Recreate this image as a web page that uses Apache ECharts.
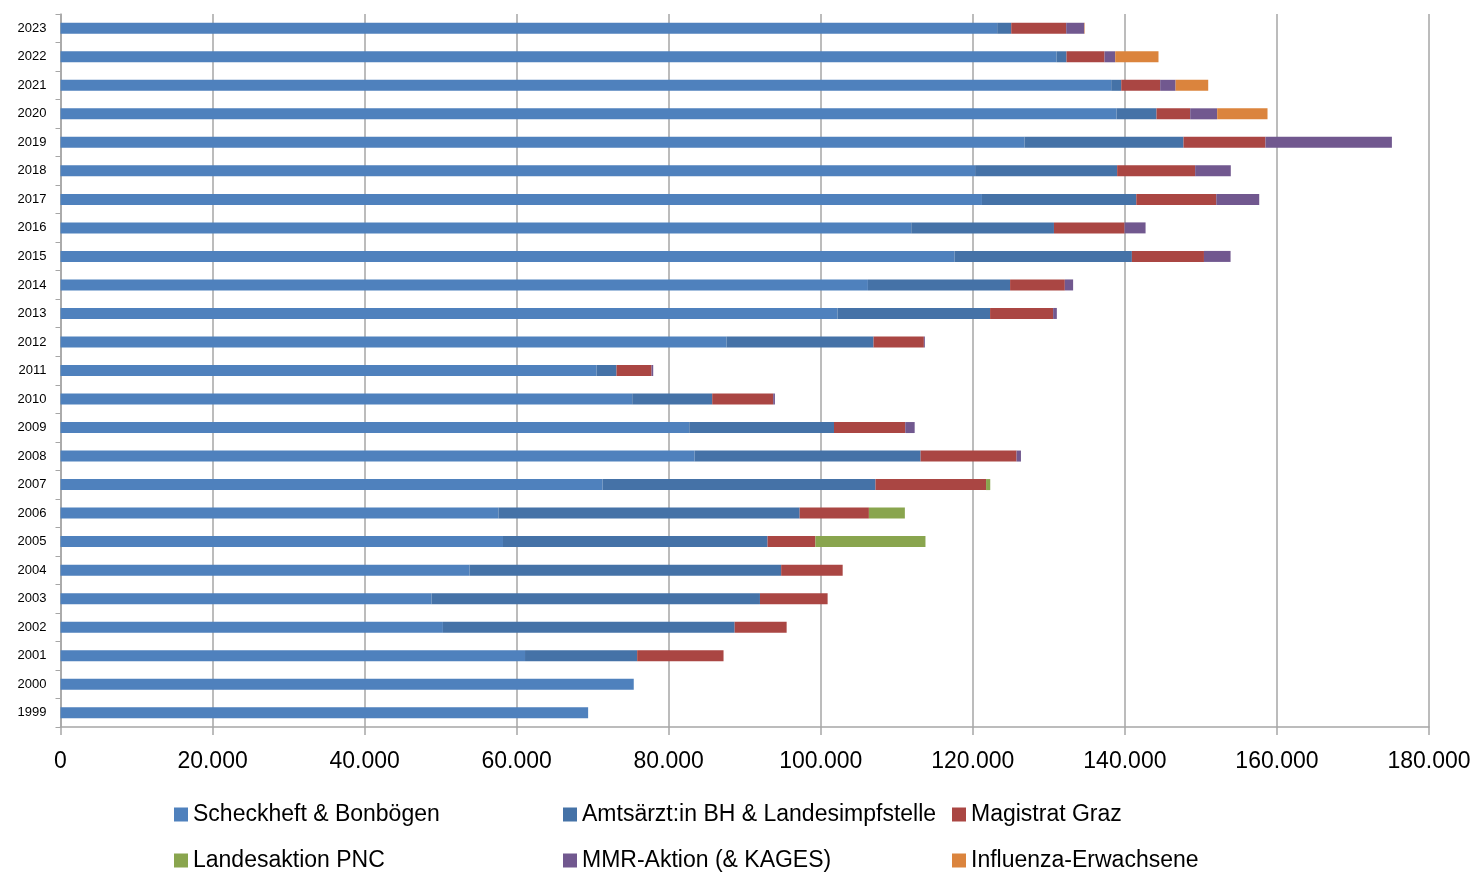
<!DOCTYPE html>
<html>
<head>
<meta charset="utf-8">
<script src="https://cdn.jsdelivr.net/npm/echarts@6/dist/echarts.min.js"></script>
<style>
  html, body { margin: 0; padding: 0; background: #fff; }
  #chart { width: 1475px; height: 873px; }
</style>
</head>
<body>
<div id="chart"></div>
<script>
// Jahre (unten -> oben)
var years = ['1999','2000','2001','2002','2003','2004','2005','2006','2007','2008','2009','2010',
             '2011','2012','2013','2014','2015','2016','2017','2018','2019','2020','2021','2022','2023'];

var seriesNames = ['Scheckheft & Bonbögen', 'Amtsärzt:in BH & Landesimpfstelle', 'Magistrat Graz',
                   'Landesaktion PNC', 'MMR-Aktion (& KAGES)', 'Influenza-Erwachsene'];

var scheckheft = [69400, 75400, 61100, 50300, 48800, 53800, 58200, 57600, 71300, 83400, 82700, 75200,
                  70500, 87600, 102200, 106200, 117600, 111900, 121200, 120300, 126800, 138900, 138200, 131000, 123200];
var amtsarzt   = [0, 0, 14750, 38370, 43200, 40990, 34800, 39620, 35900, 29730, 19040, 10520,
                  2630, 19340, 20070, 18700, 23320, 18770, 20300, 18680, 20910, 5260, 1320, 1320, 1850];
var magistrat  = [0, 0, 11360, 6840, 8900, 8090, 6290, 9110, 14540, 12620, 9370, 8020,
                  4610, 6620, 8290, 7200, 9480, 9290, 10520, 10260, 10780, 4430, 5120, 5000, 7230];
var pnc        = [0, 0, 0, 0, 0, 0, 14480, 4730, 550, 0, 0, 0,
                  0, 0, 0, 0, 0, 0, 0, 0, 0, 0, 0, 0, 0];
var mmr        = [0, 0, 0, 0, 0, 0, 0, 0, 0, 580, 1240, 230,
                  220, 130, 490, 1090, 3500, 2760, 5650, 4690, 16630, 3550, 2030, 1410, 2370];
var influenza  = [0, 0, 0, 0, 0, 0, 0, 0, 0, 0, 0, 0,
                  0, 0, 0, 0, 0, 0, 0, 0, 0, 6620, 4290, 5690, 60];

var colors = ['#4F81BD', '#4572A7', '#AA4643', '#89A54E', '#71588F', '#DB843D'];
var allData = [scheckheft, amtsarzt, magistrat, pnc, mmr, influenza];

var chart = echarts.init(document.getElementById('chart'));
var font = 'Liberation Sans, Arial, sans-serif';

function fmt(v) {
    // 180000 -> 180.000
    return String(v).replace(/\B(?=(\d{3})+(?!\d))/g, '.');
}

var series = [];
for (var i = 0; i < seriesNames.length; i++) {
    series.push({
        name: seriesNames[i],
        type: 'bar',
        stack: 'total',
        barWidth: 11,
        data: allData[i],
        itemStyle: { color: colors[i] },
        emphasis: { disabled: true }
    });
}

// legende: 2 zeilen x 3 spalten, einzeln positioniert
var legendPos = [[174, 803], [563, 803], [952, 803], [174, 849], [563, 849], [952, 849]];
var legends = [];
for (var j = 0; j < seriesNames.length; j++) {
    legends.push({
        data: [seriesNames[j]],
        left: legendPos[j][0],
        top: legendPos[j][1],
        padding: 0,
        icon: 'rect',
        itemWidth: 14,
        itemHeight: 14,
        selectedMode: false,
        textStyle: { fontFamily: font, fontSize: 23, color: '#000' }
    });
}

var option = {
    animation: false,
    color: colors,
    grid: { left: 60.5, right: 46, top: 14, bottom: 146, containLabel: false },
    legend: legends,
    xAxis: {
        type: 'value',
        min: 0,
        max: 180000,
        interval: 20000,
        axisLine: { show: true, lineStyle: { color: '#a6a6a6', width: 1.5 } },
        axisTick: { show: true, length: 8, lineStyle: { color: '#a6a6a6', width: 1.5 } },
        splitLine: { show: true, lineStyle: { color: '#a6a6a6', width: 1.5 } },
        axisLabel: {
            margin: 23,
            fontFamily: font,
            fontSize: 23,
            color: '#000',
            formatter: function (v) { return fmt(v); }
        }
    },
    yAxis: {
        type: 'category',
        data: years,
        axisLine: { show: true, lineStyle: { color: '#a6a6a6', width: 1.5 } },
        axisTick: { show: true, length: 5, lineStyle: { color: '#a6a6a6', width: 1 } },
        splitLine: { show: false },
        axisLabel: { margin: 14, fontFamily: font, fontSize: 13, color: '#000', padding: [2, 0, 0, 0] }
    },
    series: series
};

chart.setOption(option);
</script>
</body>
</html>
